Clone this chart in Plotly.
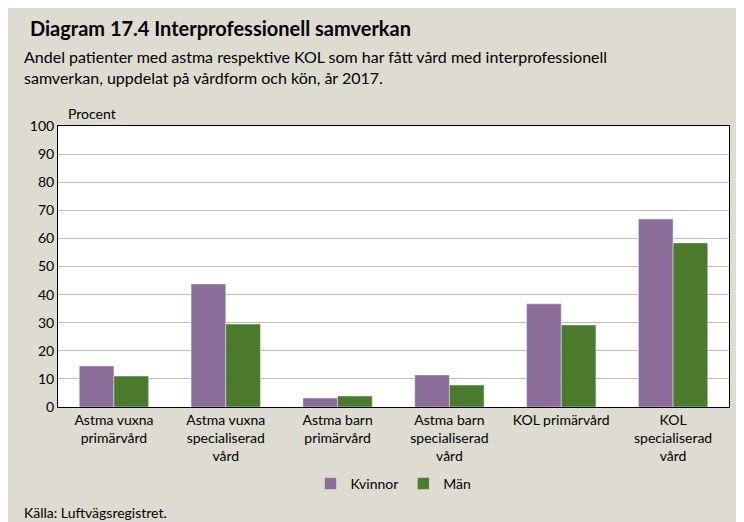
import plotly.graph_objects as go

categories = ["Astma vuxna<br>primärvård", "Astma vuxna<br>specialiserad<br>vård", "Astma barn<br>primärvård",
              "Astma barn<br>specialiserad<br>vård", "KOL primärvård", "KOL<br>specialiserad<br>vård"]
kvinnor = [14.6, 43.8, 3.2, 11.4, 36.7, 66.9]
man = [11.0, 29.5, 3.9, 7.8, 29.2, 58.4]
yticks = list(range(0, 101, 10))

W, H = 744, 522
L, R, T, B = 50, 23, 118, 123
def py(p):
    return (H - B - p) / (H - T - B)

font = "Lato"
fig = go.Figure()
fig.add_bar(x=categories, y=kvinnor, name="Kvinnor", marker_color="#8C6D9A")
fig.add_bar(x=categories, y=man, name="Män", marker_color="#4B7A2C")
fig.update_layout(
    width=W, height=H, margin=dict(l=L, r=R, t=T, b=B, autoexpand=False),
    paper_bgcolor="#DEDBD0", plot_bgcolor="white",
    font=dict(family=font, size=14, color="black"),
    bargap=0.38, bargroupgap=0.0,
    showlegend=True,
    legend=dict(orientation="h", x=0.5, xanchor="center", y=py(476), yanchor="middle",
                font=dict(size=14), bgcolor="rgba(0,0,0,0)", itemwidth=30, entrywidthmode="pixels"),
    xaxis=dict(showline=True, linecolor="black", mirror=True, ticks="", tickfont=dict(size=14)),
    yaxis=dict(range=[0, 100], tickvals=yticks, showgrid=True, gridcolor="#BDBDBD",
               showline=True, linecolor="black", mirror=True, ticks="", zeroline=False,
               tickfont=dict(size=14)),
    annotations=[
        dict(text="<b>Diagram 17.4 Interprofessionell samverkan</b>", x=-L/(W-L-R), xref="paper",
             y=py(20), yref="paper", xanchor="left", yanchor="middle", showarrow=False,
             font=dict(size=20), xshift=20),
        dict(text="Andel patienter med astma respektive KOL som har fått vård med interprofessionell<br>samverkan, uppdelat på vårdform och kön, år 2017.",
             x=-L/(W-L-R), xref="paper", y=py(59), yref="paper", xanchor="left", yanchor="middle",
             showarrow=False, align="left", font=dict(size=16), xshift=14),
        dict(text="Procent", x=0, xref="paper", y=py(106), yref="paper", xanchor="left",
             yanchor="middle", showarrow=False, font=dict(size=14), xshift=8),
        dict(text="Källa: Luftvägsregistret.", x=-L/(W-L-R), xref="paper", y=py(505), yref="paper",
             xanchor="left", yanchor="middle", showarrow=False, font=dict(size=14), xshift=14),
    ],
)
fig.write_html("out.html")
